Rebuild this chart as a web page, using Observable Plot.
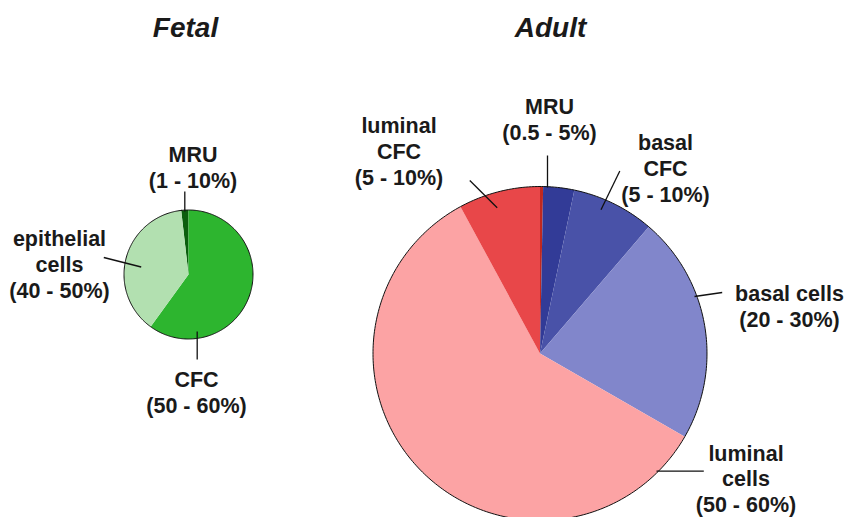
<!DOCTYPE html>
<html>
<head>
<meta charset="utf-8">
<script src="https://cdn.jsdelivr.net/npm/d3@7"></script>
<script src="https://cdn.jsdelivr.net/npm/@observablehq/plot@0.6"></script>
<style>
  html, body { margin: 0; padding: 0; background: #fff; }
  #chart svg { display: block; }
</style>
</head>
<body>
<div id="chart"></div>
<script>
// ---- data ----
const titles = ["Fetal", "Adult"];

const fetalCategories = ["MRU", "CFC", "epithelial cells"];
const fetalValues = [1.8, 60.0, 38.2];
const fetalRanges = ["(1 - 10%)", "(50 - 60%)", "(40 - 50%)"];
const fetalColors = ["#0b5e0e", "#2db52f", "#b2e0b0"];

const adultCategories = ["other", "MRU", "basal CFC", "basal cells", "luminal cells", "luminal CFC"];
const adultValues = [0.3, 3.0, 8.0, 22.0, 58.8, 7.9];
const adultRanges = [null, "(0.5 - 5%)", "(5 - 10%)", "(20 - 30%)", "(50 - 60%)", "(5 - 10%)"];
const adultColors = ["#c0281f", "#323b97", "#4952a8", "#8186cb", "#fca3a4", "#e84749"];

// ---- layout ----
const W = 845, H = 517;
const fetalPie = {cx: 188, cy: 274, r: 64.5, start: -6.5};
const adultPie = {cx: 539.5, cy: 353, r: 167, start: 0};
const titleLayout = [{x: 185, y: 36}, {x: 550, y: 36}];
const fetalLabelLayout = [
  {x: 192.5, y: 187, wrap: false, leader: [184.3, 191, 184.3, 211]},
  {x: 196, y: 412, wrap: false, leader: [196.7, 331, 196.7, 359]},
  {x: 59, y: 297, wrap: true, leader: [103.3, 257, 140.7, 266.5]}
];
const adultLabelLayout = [
  null,
  {x: 549, y: 139.5, wrap: false, leader: [547, 155, 547, 187]},
  {x: 665, y: 201, wrap: true, leader: [619.3, 170.5, 600.5, 209.3]},
  {x: 789, y: 326.5, wrap: false, leader: [694, 296, 721.7, 292]},
  {x: 745.5, y: 511.5, wrap: true, leader: [656, 470.7, 703.3, 470.7]},
  {x: 398.5, y: 184, wrap: true, leader: [469.3, 180, 496.7, 207.3]}
];

function slices(pieLayout, categories, values, colors, prefix) {
  const a0 = pieLayout.start * Math.PI / 180;
  const arcs = d3.pie().sort(null).startAngle(a0).endAngle(a0 + 2 * Math.PI)(values);
  const pts = [], outline = [];
  arcs.forEach((arc, i) => {
    const key = prefix + i;
    pts.push({key, color: colors[i], x: pieLayout.cx, y: pieLayout.cy});
    const n = Math.max(2, Math.ceil((arc.endAngle - arc.startAngle) * 180 / Math.PI));
    for (let k = 0; k <= n; k++) {
      const a = arc.startAngle + (arc.endAngle - arc.startAngle) * k / n;
      const p = {key, color: colors[i], x: pieLayout.cx + pieLayout.r * Math.sin(a), y: pieLayout.cy - pieLayout.r * Math.cos(a)};
      pts.push(p);
      outline.push({key: prefix, x: p.x, y: p.y});
    }
  });
  return {pts, outline};
}

const fetal = slices(fetalPie, fetalCategories, fetalValues, fetalColors, "f");
const adult = slices(adultPie, adultCategories, adultValues, adultColors, "a");

function labels(categories, ranges, layout) {
  const out = [];
  categories.forEach((c, i) => {
    const L = layout[i];
    if (!L || !ranges[i]) return;
    const name = L.wrap ? c.split(" ").join("\n") : c;
    out.push({text: name + "\n" + ranges[i], x: L.x, y: L.y,
      x1: L.leader[0], y1: L.leader[1], x2: L.leader[2], y2: L.leader[3]});
  });
  return out;
}
const labelData = [...labels(fetalCategories, fetalRanges, fetalLabelLayout),
                   ...labels(adultCategories, adultRanges, adultLabelLayout)];
const titleData = titles.map((t, i) => ({text: t, ...titleLayout[i]}));

const plot = Plot.plot({
  width: W, height: H,
  margin: 0,
  x: {domain: [0, W], axis: null},
  y: {domain: [0, H], reverse: true, axis: null},
  color: {type: "identity"},
  style: {fontFamily: "'Liberation Sans', Arial, Helvetica, sans-serif", background: "#fff", overflow: "hidden"},
  marks: [
    Plot.line([...fetal.pts, ...adult.pts], {x: "x", y: "y", z: "key", fill: "color", stroke: "none", curve: "linear-closed"}),
    Plot.line([...fetal.outline, ...adult.outline], {x: "x", y: "y", z: "key", stroke: "#111", strokeWidth: 1, fill: "none", curve: "linear-closed"}),
    Plot.link(labelData, {x1: "x1", y1: "y1", x2: "x2", y2: "y2", stroke: "#111", strokeWidth: 1.3}),
    Plot.text(labelData, {x: "x", y: "y", text: "text", lineAnchor: "bottom", lineHeight: 1.19, fontSize: 21.5, fontWeight: "bold", fill: "#1a1a1a"}),
    Plot.text(titleData, {x: "x", y: "y", text: "text", lineAnchor: "bottom", fontSize: 28, fontWeight: "bold", fontStyle: "italic", fill: "#1a1a1a"})
  ]
});
document.getElementById("chart").appendChild(plot);
</script>
</body>
</html>
